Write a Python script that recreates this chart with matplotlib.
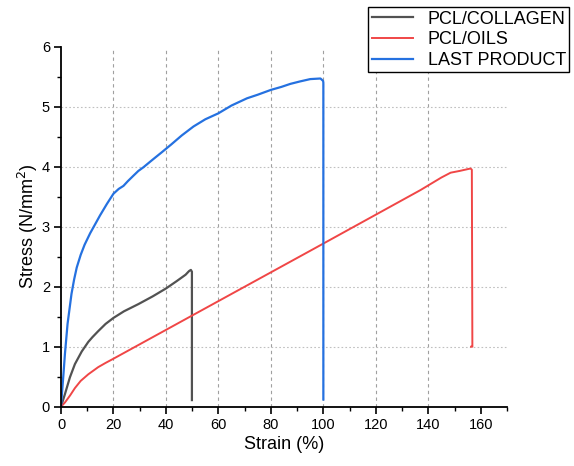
import matplotlib
matplotlib.use("Agg")
import matplotlib.pyplot as plt
from matplotlib.ticker import MultipleLocator

plt.rcParams['font.family'] = ['Liberation Sans', 'DejaVu Sans']

# Data
collagen_strain = [0, 1.5, 3.4, 5.3, 7.9, 10.4, 12, 14.2, 17, 20, 24, 29.5, 35, 40, 44, 47.5, 48.8, 49.5, 49.9, 49.9]
collagen_stress = [0, 0.21, 0.49, 0.71, 0.92, 1.08, 1.16, 1.26, 1.38, 1.48, 1.59, 1.71, 1.84, 1.97, 2.09, 2.20, 2.26, 2.28, 2.25, 0.11]

oils_strain = [0, 1.5, 3.5, 5.3, 7.5, 10.4, 14.2, 17, 20, 50, 96.3, 137, 145, 148.5, 152, 156.1, 156.6, 156.8, 156.3]
oils_stress = [0, 0.07, 0.19, 0.31, 0.43, 0.54, 0.66, 0.73, 0.80, 1.52, 2.63, 3.61, 3.82, 3.90, 3.93, 3.97, 3.95, 1.0, 1.0]

last_strain = [0, 0.3, 0.9, 1.5, 2.5, 4.0, 5.0, 6.0, 7.5, 9.0, 11.1, 13, 14.9, 17.5, 20, 22, 23.8, 25.5,
               27.6, 29.5, 31.4, 35, 38.4, 42, 46, 50.5, 55, 60, 65, 70.9, 75, 80, 84, 87.4, 91, 95,
               98.9, 99.9, 100, 100]
last_stress = [0, 0.18, 0.52, 0.88, 1.38, 1.88, 2.12, 2.32, 2.53, 2.70, 2.89, 3.04, 3.19, 3.38, 3.55, 3.63, 3.68, 3.76,
               3.85, 3.93, 3.99, 4.12, 4.24, 4.37, 4.52, 4.67, 4.79, 4.89, 5.02, 5.14, 5.20, 5.28, 5.33, 5.38, 5.42, 5.46,
               5.47, 5.43, 5.40, 0.12]

labels = ["PCL/COLLAGEN", "PCL/OILS", "LAST PRODUCT"]
colors = ["#525252", "#f04646", "#2571e0"]

fig = plt.figure(figsize=(5.74, 4.66), dpi=100)
ax = fig.add_axes([61/574, 1 - 406.7/466, (507-61)/574, (406.7-46.7)/466])

ax.plot(collagen_strain, collagen_stress, color=colors[0], lw=1.6, label=labels[0])
ax.plot(oils_strain, oils_stress, color=colors[1], lw=1.4, label=labels[1])
ax.plot(last_strain, last_stress, color=colors[2], lw=1.6, label=labels[2])

ax.set_xlim(0, 170)
ax.set_ylim(0, 6)
ax.xaxis.set_major_locator(MultipleLocator(20))
ax.xaxis.set_minor_locator(MultipleLocator(10))
ax.yaxis.set_major_locator(MultipleLocator(1))
ax.yaxis.set_minor_locator(MultipleLocator(0.5))

for s in ['top', 'right']:
    ax.spines[s].set_visible(False)
for s in ['left', 'bottom']:
    ax.spines[s].set_linewidth(1.3)

ax.tick_params(which='major', direction='out', length=5, width=1.2, labelsize=10.5, pad=3)
ax.tick_params(which='minor', direction='out', length=3, width=1.0)

# grid lines
for v in [20, 40, 60, 80, 100, 120, 140]:
    ax.axvline(v, color='#a0a0a0', lw=0.8, ls=(0, (3, 3)), zorder=0)
for h in [1, 2, 3, 4, 5]:
    ax.axhline(h, color='#c0c0c0', lw=0.8, ls=(0, (1.5, 2)), zorder=0)

ax.set_xlabel("Strain (%)", fontsize=13, labelpad=3)
ax.set_ylabel("Stress (N/mm$^2$)", fontsize=13, labelpad=1)

leg = fig.legend(loc='upper left', bbox_to_anchor=(368/574, 1 - 7/466), borderaxespad=0,
                 fontsize=13, frameon=True, fancybox=False, framealpha=1,
                 edgecolor='black', handlelength=2.3, handletextpad=0.8,
                 labelspacing=0.2, borderpad=0.2)
leg.get_frame().set_linewidth(1.0)

fig.savefig("out.png", dpi=100)
